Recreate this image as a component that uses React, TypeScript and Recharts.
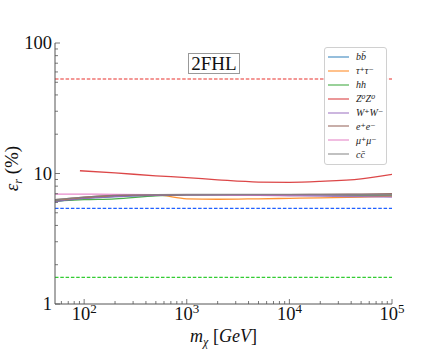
import React from "react";
import {
  Legend,
  Line,
  LineChart,
  ReferenceLine,
  XAxis,
  YAxis,
} from "recharts";

// dark matter masses (GeV)
const masses = [52, 100, 200, 500, 1000, 2000, 5000, 10000, 20000, 50000, 100000];
const zMasses = [91, 200, 500, 1000, 2000, 5000, 10000, 20000, 50000, 100000];

const bb = [6.1, 6.45, 6.65, 6.8, 6.85, 6.85, 6.85, 6.85, 6.82, 6.8, 6.75];
const tautau = [6.15, 6.5, 6.75, 6.85, 6.4, 6.35, 6.4, 6.45, 6.5, 6.6, 6.7];
const hh = [6.15, 6.3, 6.4, 6.75, 6.85, 6.9, 6.9, 6.88, 6.85, 6.8, 6.8];
const zz = [10.5, 10.1, 9.6, 9.3, 8.95, 8.6, 8.56, 8.7, 9.1, 9.85];
const ww = [6.1, 6.45, 6.65, 6.8, 6.85, 6.85, 6.8, 6.75, 6.7, 6.65, 6.6];
const ee = [6.3, 6.6, 6.8, 6.9, 6.9, 6.9, 6.9, 6.9, 6.92, 6.95, 7.0];
const mumu = [6.95, 6.95, 6.92, 6.9, 6.9, 6.88, 6.85, 6.85, 6.85, 6.85, 6.85];
const cc = [6.3, 6.6, 6.8, 6.9, 6.92, 6.92, 6.92, 6.92, 6.92, 6.92, 6.92];

// horizontal dashed levels
const redLevel = 53;
const blueLevel = 5.4;
const greenLevel = 1.6;

const xMajor = [100, 1000, 10000, 100000];
const xExp = ["2", "3", "4", "5"];
const yMajor = [1, 10, 100];
const yLabels = ["1", "10", "100"];

const minorTicks = (lo: number, hi: number) => {
  const out: number[] = [];
  for (let d = 1; d <= 100000; d *= 10) {
    for (let k = 1; k <= 9; k++) {
      const v = k * d;
      if (v >= lo && v <= hi) out.push(v);
    }
  }
  return out;
};
const xTicks = minorTicks(52, 100000);
const yTicks = minorTicks(1, 100);

const rows = (xs: number[], ys: number[]) => xs.map((m, i) => ({ m, v: ys[i] }));

const series = [
  { name: "bb\u0304", color: "#1f77b4", data: rows(masses, bb) },
  { name: "τ⁺τ⁻", color: "#ff7f0e", data: rows(masses, tautau) },
  { name: "hh", color: "#2ca02c", data: rows(masses, hh) },
  { name: "Z⁰Z⁰", color: "#d62728", data: rows(zMasses, zz) },
  { name: "W⁺W⁻", color: "#9467bd", data: rows(masses, ww) },
  { name: "e⁺e⁻", color: "#8c564b", data: rows(masses, ee) },
  { name: "μ⁺μ⁻", color: "#e377c2", data: rows(masses, mumu) },
  { name: "cc\u0304", color: "#7f7f7f", data: rows(masses, cc) },
];

const AXIS = "#555";
const SERIF = "'Liberation Serif', 'DejaVu Serif', serif";

const XTick = (props: any) => {
  const { x, y, payload, side } = props;
  const i = xMajor.indexOf(payload.value);
  const len = i >= 0 ? 5 : 3;
  const dir = side === "top" ? 1 : -1;
  return (
    <g>
      <line x1={x} y1={y} x2={x} y2={y + dir * len} stroke={AXIS} strokeWidth={0.8} />
      {side === "bottom" && i >= 0 && (
        <text x={x} y={y + 16} textAnchor="middle" fontFamily={SERIF} fontSize={18.5} fill="#111">
          10
          <tspan fontSize={13} dy={-7}>
            {xExp[i]}
          </tspan>
        </text>
      )}
    </g>
  );
};

const YTick = (props: any) => {
  const { x, y, payload, side } = props;
  const i = yMajor.indexOf(payload.value);
  const len = i >= 0 ? 5 : 3;
  const dir = side === "right" ? -1 : 1;
  return (
    <g>
      <line x1={x} y1={y} x2={x + dir * len} y2={y} stroke={AXIS} strokeWidth={0.8} />
      {side === "left" && i >= 0 && (
        <text x={x - 3} y={y + 6} textAnchor="end" fontFamily={SERIF} fontSize={18.5} fill="#111">
          {yLabels[i]}
        </text>
      )}
    </g>
  );
};

const XLabel = (props: any) => {
  const { viewBox } = props;
  const cx = viewBox.x + viewBox.width / 2;
  return (
    <text x={cx} y={viewBox.y + 38} textAnchor="middle" fontFamily={SERIF} fontSize={18} fill="#111">
      <tspan fontStyle="italic">m</tspan>
      <tspan fontStyle="italic" fontSize={12} dy={4}>
        χ
      </tspan>
      <tspan dy={-4}> [</tspan>
      <tspan fontStyle="italic">GeV</tspan>
      <tspan>]</tspan>
    </text>
  );
};

const YLabel = (props: any) => {
  const { viewBox } = props;
  const cy = viewBox.y + viewBox.height / 2 - 5;
  const cx = 18;
  return (
    <text
      x={cx}
      y={cy}
      transform={`rotate(-90 ${cx} ${cy})`}
      textAnchor="middle"
      fontFamily={SERIF}
      fontSize={19}
      fill="#111"
    >
      <tspan fontStyle="italic">ε</tspan>
      <tspan fontStyle="italic" fontSize={12} dy={4}>
        r
      </tspan>
      <tspan dy={-4}> (%)</tspan>
    </text>
  );
};

// legend keeps the plotting order rather than Recharts' sorted payload
const LegendBox = () => (
  <div
    style={{
      background: "#fff",
      border: "1px solid #d0d0d0",
      borderRadius: 3,
      padding: "2px 0 3px 3px",
      width: 63,
      boxSizing: "border-box",
    }}
  >
    {series.map((s) => (
      <div key={s.name} style={{ display: "flex", alignItems: "center", height: 13.9 }}>
        <svg width={22} height={6} style={{ marginRight: 6 }}>
          <line x1={0} y1={3} x2={21} y2={3} stroke={s.color} strokeWidth={1.6} strokeOpacity={0.6} />
        </svg>
        <span style={{ fontFamily: SERIF, fontStyle: "italic", fontSize: 10, color: "#222" }}>
          {s.name}
        </span>
      </div>
    ))}
  </div>
);

const App = () => {
  return (
    <div style={{ position: "absolute", left: 0, top: 0, width: 436, height: 349, background: "#fff" }}>
      <LineChart width={436} height={349} margin={{ top: 43, right: 44, left: 0, bottom: 0 }}>
        <XAxis
          dataKey="m"
          type="number"
          scale="log"
          domain={[52, 100000]}
          allowDataOverflow
          ticks={xTicks}
          interval={0}
          height={45}
          tickSize={0}
          tickMargin={0}
          tickLine={false}
          axisLine={{ stroke: AXIS }}
          tick={<XTick side="bottom" />}
          label={<XLabel />}
        />
        <XAxis
          xAxisId="top"
          orientation="top"
          type="number"
          scale="log"
          domain={[52, 100000]}
          allowDataOverflow
          ticks={xTicks}
          interval={0}
          height={0}
          tickSize={0}
          tickMargin={0}
          tickLine={false}
          axisLine={{ stroke: AXIS }}
          tick={<XTick side="top" />}
        />
        <YAxis
          type="number"
          scale="log"
          domain={[1, 100]}
          allowDataOverflow
          ticks={yTicks}
          interval={0}
          width={55}
          tickSize={0}
          tickMargin={0}
          tickLine={false}
          axisLine={{ stroke: AXIS }}
          tick={<YTick side="left" />}
          label={<YLabel />}
        />
        <YAxis
          yAxisId="right"
          orientation="right"
          type="number"
          scale="log"
          domain={[1, 100]}
          allowDataOverflow
          ticks={yTicks}
          interval={0}
          width={0}
          tickSize={0}
          tickMargin={0}
          tickLine={false}
          axisLine={{ stroke: AXIS }}
          tick={<YTick side="right" />}
        />
        <ReferenceLine y={redLevel} stroke="#e8302c" strokeDasharray="3.5 1.8" strokeWidth={1.1} />
        <ReferenceLine y={blueLevel} stroke="#2060ff" strokeDasharray="3.5 1.8" strokeWidth={1.1} />
        <ReferenceLine y={greenLevel} stroke="#33cc33" strokeDasharray="3.5 1.8" strokeWidth={1.1} />
        {series.map((s) => (
          <Line
            key={s.name}
            name={s.name}
            data={s.data}
            dataKey="v"
            type="monotone"
            stroke={s.color}
            strokeWidth={1.3}
            strokeOpacity={0.85}
            dot={false}
            isAnimationActive={false}
          />
        ))}
        <Legend
          layout="vertical"
          align="center"
          verticalAlign="middle"
          wrapperStyle={{ position: "absolute", left: 324, top: 47, width: 63 }}
          content={<LegendBox />}
        />
      </LineChart>
      <div
        style={{
          position: "absolute",
          left: 188,
          top: 53,
          width: 52,
          height: 21,
          border: "1px solid #999",
          boxSizing: "border-box",
          background: "#fff",
          fontFamily: SERIF,
          fontSize: 19,
          lineHeight: "19px",
          textAlign: "center",
          color: "#111",
        }}
      >
        2FHL
      </div>
    </div>
  );
};

export default App;
